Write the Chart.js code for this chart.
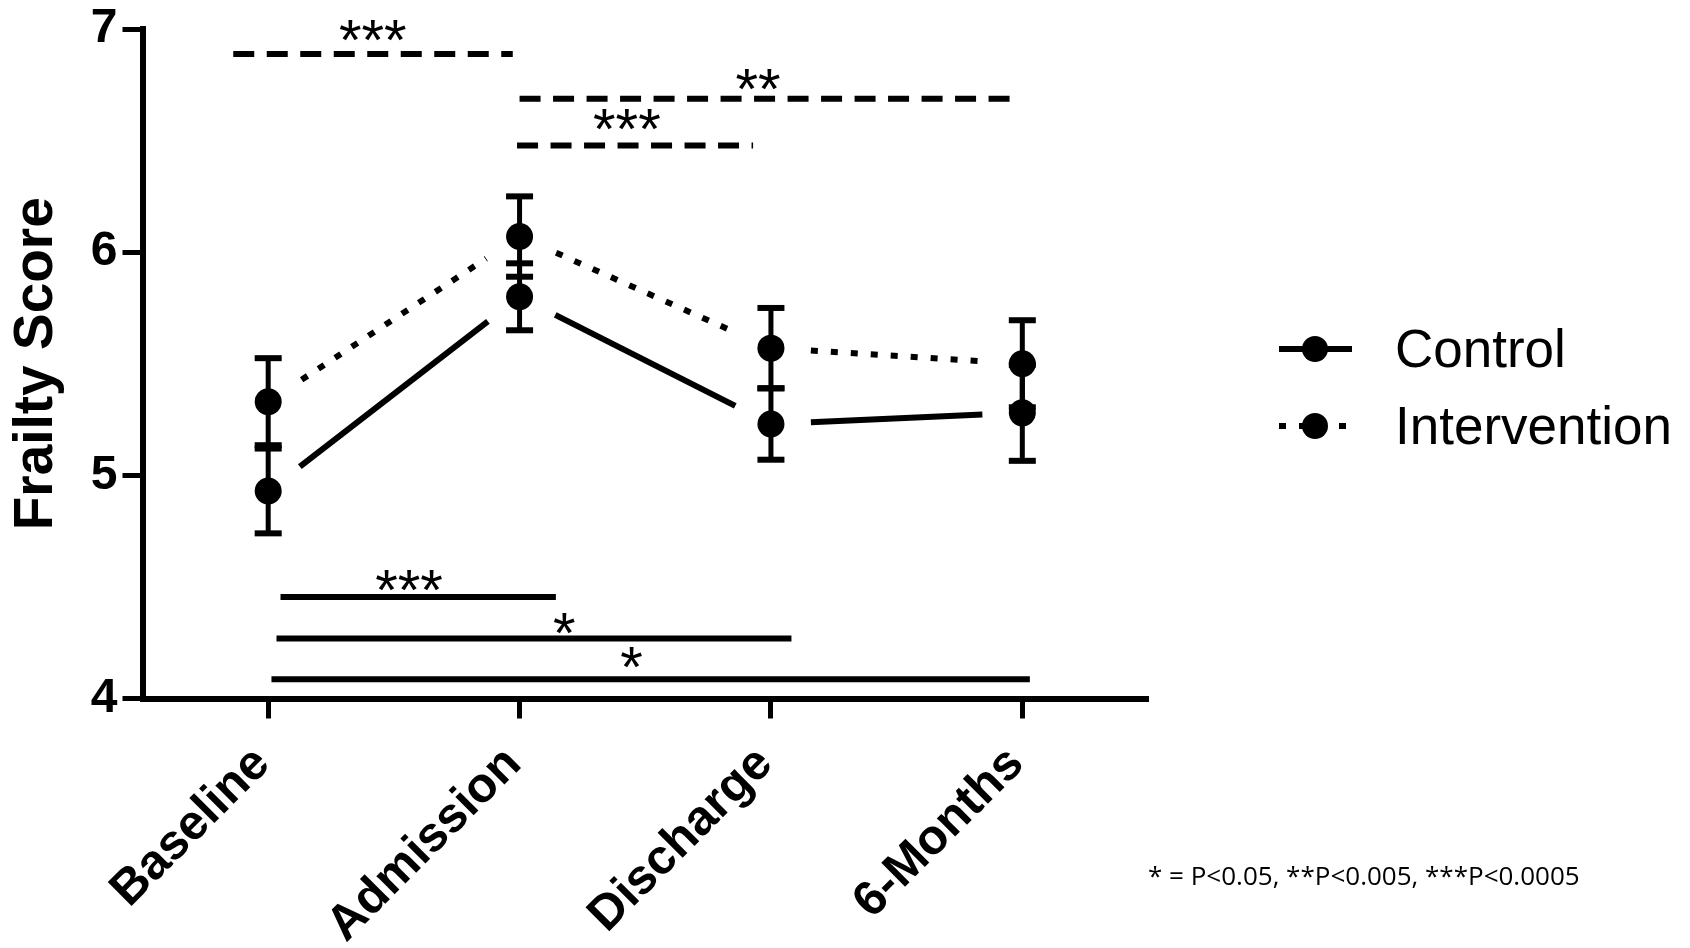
<!DOCTYPE html>
<html>
<head>
<meta charset="utf-8">
<title>Frailty Score</title>
<script src="https://cdn.jsdelivr.net/npm/chart.js@4.4.1/dist/chart.umd.min.js"></script>
<style>
  html, body { margin: 0; padding: 0; background: #ffffff; }
  #wrap { width: 1690px; height: 948px; position: relative; }
</style>
</head>
<body>
<div id="wrap"><canvas id="chart" width="1690" height="948"></canvas></div>
<script>
// ---- data ----
const timepoints = ['Baseline', 'Admission', 'Discharge', '6-Months'];
const controlMean = [4.93, 5.80, 5.23, 5.28];
const controlSem = [0.19, 0.15, 0.16, 0.215];
const interventionMean = [5.33, 6.07, 5.57, 5.50];
const interventionSem = [0.195, 0.18, 0.18, 0.195];
const yTicks = [4, 5, 6, 7];

// pairwise comparisons: span in category-index units, bar height in score units
const sigGroup = ['Intervention', 'Intervention', 'Intervention', 'Control', 'Control', 'Control'];
const sigFrom = [-0.139, 1.0, 0.99, 0.049, 0.033, 0.013];
const sigTo = [0.973, 2.95, 1.929, 1.1445, 2.0816, 3.03];
const sigLevel = [6.888, 6.687, 6.478, 4.455, 4.269, 4.0864];
const sigStars = ['***', '**', '***', '***', '*', '*'];
const sigLabelAt = [0.416, 1.949, 1.427, 0.5605, 1.178, 1.445];
const sigLabelLevel = [6.993, 6.773, 6.594, 4.5297, 4.336, 4.184];

const footnote = '* = P<0.05, **P<0.005, ***P<0.0005';

// ---- styles ----
const SANS = '"Liberation Sans", Arial, Helvetica, sans-serif';
const NOTE_FONT = '"Open Sans", "Noto Sans", sans-serif';
const INK = '#000000';
const seriesDash = { Control: [], Intervention: [7, 13] };
const bracketDash = { Control: [], Intervention: [21, 12.5] };
const LINE_W = 6;
const LINE_GAP = 40;       // distance kept clear between a segment end and its marker
const MARKER_R = 13.5;

// connecting segments (short of each marker) and SEM error bars
const seriesPlugin = {
  id: 'seriesPlugin',
  beforeDatasetsDraw(chart) {
    const ctx = chart.ctx;
    const ys = chart.scales.y;
    chart.data.datasets.forEach((ds, i) => {
      const pts = chart.getDatasetMeta(i).data;
      ctx.save();
      ctx.strokeStyle = INK;
      ctx.lineWidth = LINE_W;
      ctx.lineCap = 'butt';
      ctx.setLineDash(seriesDash[ds.label]);
      for (let k = 0; k < pts.length - 1; k++) {
        const a = pts[k], b = pts[k + 1];
        const dx = b.x - a.x, dy = b.y - a.y;
        const len = Math.hypot(dx, dy);
        const ux = dx / len, uy = dy / len;
        ctx.beginPath();
        ctx.moveTo(a.x + ux * LINE_GAP, a.y + uy * LINE_GAP);
        ctx.lineTo(b.x - ux * LINE_GAP, b.y - uy * LINE_GAP);
        ctx.stroke();
      }
      ctx.restore();

      ctx.save();
      ctx.fillStyle = INK;
      pts.forEach((p, k) => {
        const m = ds.data[k], e = ds.sem[k];
        const top = ys.getPixelForValue(m + e);
        const bot = ys.getPixelForValue(m - e);
        ctx.fillRect(p.x - 2.5, top, 5, bot - top);
        ctx.fillRect(p.x - 13.5, top - 3, 27, 6);
        ctx.fillRect(p.x - 13.5, bot - 3, 27, 6);
      });
      ctx.restore();
    });
  }
};

// significance bars with their star labels
const bracketPlugin = {
  id: 'bracketPlugin',
  afterDatasetsDraw(chart) {
    const ctx = chart.ctx;
    const xs = chart.scales.x, ys = chart.scales.y;
    ctx.save();
    ctx.strokeStyle = INK;
    ctx.fillStyle = INK;
    ctx.lineWidth = 6;
    ctx.lineCap = 'butt';
    sigFrom.forEach((from, i) => {
      const x0 = xs.getPixelForValue(from);
      const x1 = xs.getPixelForValue(sigTo[i]);
      const y = ys.getPixelForValue(sigLevel[i]);
      ctx.setLineDash(bracketDash[sigGroup[i]]);
      ctx.beginPath();
      ctx.moveTo(x0, y);
      ctx.lineTo(x1, y);
      ctx.stroke();

      ctx.setLineDash([]);
      ctx.font = '58px ' + SANS;
      ctx.textAlign = 'center';
      ctx.textBaseline = 'alphabetic';
      const m = ctx.measureText(sigStars[i]);
      const cx = xs.getPixelForValue(sigLabelAt[i]);
      const cy = ys.getPixelForValue(sigLabelLevel[i]);
      ctx.fillText(sigStars[i], cx, cy + (m.actualBoundingBoxAscent - m.actualBoundingBoxDescent) / 2);
    });
    ctx.restore();
  }
};

// legend at the right and the p-value key underneath
const legendPlugin = {
  id: 'legendPlugin',
  afterDraw(chart) {
    const ctx = chart.ctx;
    const rowY = [349, 426];
    const x0 = 1279, x1 = 1352, mx = 1315, tx = 1395;
    ctx.save();
    chart.data.datasets.forEach((ds, i) => {
      const y = rowY[i];
      ctx.strokeStyle = INK;
      ctx.lineWidth = LINE_W;
      ctx.lineCap = 'butt';
      ctx.setLineDash(seriesDash[ds.label]);
      ctx.beginPath();
      ctx.moveTo(x0, y);
      ctx.lineTo(x1, y);
      ctx.stroke();
      ctx.setLineDash([]);
      ctx.fillStyle = INK;
      ctx.beginPath();
      ctx.arc(mx, y, 13, 0, Math.PI * 2);
      ctx.fill();
      ctx.font = '53px ' + SANS;
      ctx.textAlign = 'left';
      ctx.textBaseline = 'alphabetic';
      ctx.fillText(ds.label, tx, y + 18);
    });
    ctx.font = '26px ' + NOTE_FONT;
    ctx.textAlign = 'left';
    ctx.textBaseline = 'alphabetic';
    ctx.fillText(footnote, 1148, 885);
    ctx.restore();
  }
};

const pointStyle = {
  showLine: false,
  pointRadius: MARKER_R,
  pointHoverRadius: MARKER_R,
  pointBackgroundColor: INK,
  pointBorderWidth: 0,
  borderColor: INK,
  backgroundColor: INK
};

new Chart(document.getElementById('chart'), {
  type: 'line',
  data: {
    labels: timepoints,
    datasets: [
      Object.assign({ label: 'Control', data: controlMean, sem: controlSem }, pointStyle),
      Object.assign({ label: 'Intervention', data: interventionMean, sem: interventionSem }, pointStyle)
    ]
  },
  options: {
    responsive: false,
    animation: false,
    events: [],
    layout: { padding: { left: 0, top: 28, right: 542, bottom: 0 } },
    plugins: { legend: { display: false }, tooltip: { enabled: false } },
    scales: {
      x: {
        offset: true,
        grid: { display: true, offset: false, drawOnChartArea: false, drawTicks: true, tickLength: 20, tickWidth: 5, tickColor: INK },
        border: { display: true, color: INK, width: 6 },
        ticks: {
          color: INK,
          autoSkip: false,
          minRotation: 45,
          maxRotation: 45,
          padding: 17,
          labelOffset: -6,
          font: { family: SANS, size: 49, weight: 'bold' }
        },
        afterFit(s) { s.height = 249.5; }
      },
      y: {
        min: yTicks[0],
        max: yTicks[yTicks.length - 1],
        afterBuildTicks(s) { s.ticks = yTicks.map(v => ({ value: v })); },
        grid: { display: true, drawOnChartArea: false, drawTicks: true, tickLength: 20, tickWidth: 5, tickColor: INK },
        border: { display: true, color: INK, width: 6 },
        ticks: {
          color: INK,
          padding: 5,
          font: { family: SANS, size: 48, weight: 'bold', lineHeight: 1 }
        },
        title: {
          display: true,
          text: 'Frailty Score',
          color: INK,
          padding: { top: 4, bottom: 0 },
          font: { family: SANS, size: 55, weight: 'bold' }
        },
        afterFit(s) { s.width = 142.5; }
      }
    }
  },
  plugins: [seriesPlugin, bracketPlugin, legendPlugin]
});
</script>
</body>
</html>
